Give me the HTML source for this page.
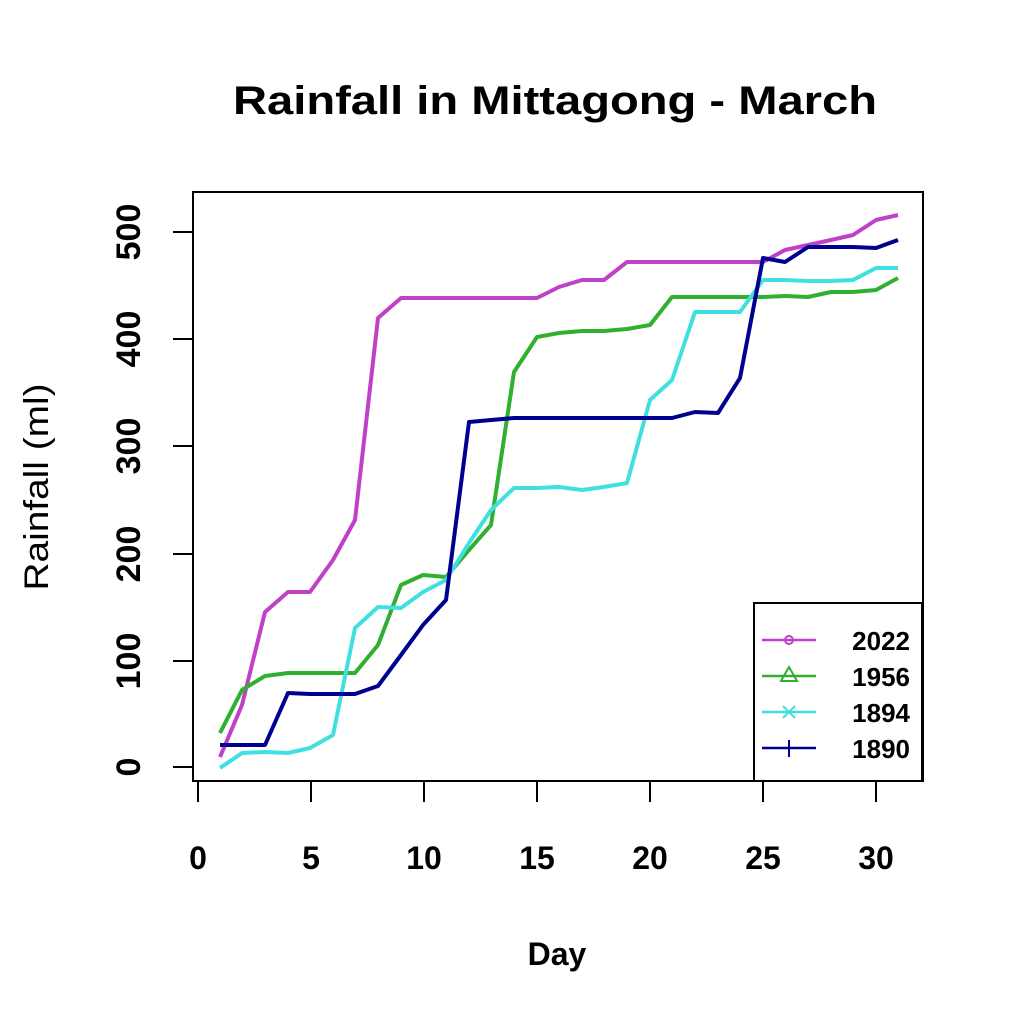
<!DOCTYPE html>
<html><head><meta charset="utf-8"><style>body{margin:0;background:#fff}</style></head><body>
<svg width="1023" height="1021" xmlns="http://www.w3.org/2000/svg" font-family="Liberation Sans, sans-serif">
<rect width="1023" height="1021" fill="#fff"/>
<text x="555" y="114" text-anchor="middle" font-size="40" font-weight="bold" textLength="644" lengthAdjust="spacingAndGlyphs">Rainfall in Mittagong - March</text>
<rect x="193" y="192" width="730" height="589" fill="none" stroke="#000" stroke-width="2"/>
<g stroke="#000" stroke-width="2">
<line x1="173" y1="767" x2="193" y2="767"/><line x1="173" y1="661" x2="193" y2="661"/><line x1="173" y1="554" x2="193" y2="554"/><line x1="173" y1="446" x2="193" y2="446"/><line x1="173" y1="339" x2="193" y2="339"/><line x1="173" y1="232" x2="193" y2="232"/>
<line x1="198" y1="781" x2="198" y2="802"/><line x1="311" y1="781" x2="311" y2="802"/><line x1="424" y1="781" x2="424" y2="802"/><line x1="537" y1="781" x2="537" y2="802"/><line x1="650" y1="781" x2="650" y2="802"/><line x1="763" y1="781" x2="763" y2="802"/><line x1="876" y1="781" x2="876" y2="802"/>
</g>
<g font-size="34" font-weight="bold" text-anchor="middle">
<text transform="translate(140,767) rotate(-90)">0</text>
<text transform="translate(140,661) rotate(-90)">100</text>
<text transform="translate(140,554) rotate(-90)">200</text>
<text transform="translate(140,446) rotate(-90)">300</text>
<text transform="translate(140,339) rotate(-90)">400</text>
<text transform="translate(140,232) rotate(-90)">500</text>
</g>
<g font-size="32" font-weight="bold" text-anchor="middle">
<text x="198" y="869">0</text><text x="311" y="869">5</text><text x="424" y="869">10</text><text x="537" y="869">15</text><text x="650" y="869">20</text><text x="763" y="869">25</text><text x="876" y="869">30</text>
<text x="557" y="965">Day</text>
</g>
<text transform="translate(48,487) rotate(-90)" font-size="34" text-anchor="middle" textLength="207" lengthAdjust="spacingAndGlyphs">Rainfall (ml)</text>
<g fill="none" stroke-width="4" stroke-linejoin="round">
<polyline stroke="#c040c8" points="220,757 242,705 265,612 288,592 310,592 333,560 355,520 378,318 401,298 423,298 446,298 469,298 491,298 514,298 537,298 559,287 582,280 604,280 627,262 650,262 672,262 695,262 718,262 740,262 763,262 785,250 808,245 831,240 853,235 876,220 898,215"/>
<polyline stroke="#30b030" points="220,733 242,690 265,676 288,673 310,673 333,673 355,673 378,645 401,585 423,575 446,577 469,550 491,525 514,372 537,337 559,333 582,331 604,331 627,329 650,325 672,297 695,297 718,297 740,297 763,297 785,296 808,297 831,292 853,292 876,290 898,278"/>
<polyline stroke="#40e0e0" points="220,768 242,753 265,752 288,753 310,748 333,735 355,628 378,607 401,608 423,592 446,580 469,543 491,510 514,488 537,488 559,487 582,490 604,487 627,483 650,400 672,380 695,312 718,312 740,312 763,280 785,280 808,281 831,281 853,280 876,268 898,268"/>
<polyline stroke="#000090" points="220,745 242,745 265,745 288,693 310,694 333,694 355,694 378,686 401,655 423,625 446,600 469,422 491,420 514,418 537,418 559,418 582,418 604,418 627,418 650,418 672,418 695,412 718,413 740,378 763,258 785,262 808,247 831,247 853,247 876,248 898,240"/>
</g>
<rect x="754" y="603" width="168" height="178" fill="#fff" stroke="#000" stroke-width="2"/>
<g stroke-width="2.5">
<line x1="762" y1="640" x2="816" y2="640" stroke="#c040c8"/><circle cx="789" cy="640" r="4" fill="none" stroke="#c040c8" stroke-width="2"/>
<line x1="762" y1="676" x2="816" y2="676" stroke="#30b030"/><polygon points="789,667 781,681 797,681" fill="none" stroke="#30b030" stroke-width="2"/>
<line x1="762" y1="712" x2="816" y2="712" stroke="#40e0e0"/><path d="M783,706 L795,718 M795,706 L783,718" stroke="#40e0e0" stroke-width="2"/>
<line x1="762" y1="748" x2="816" y2="748" stroke="#000090"/><line x1="789" y1="740" x2="789" y2="757" stroke="#000090" stroke-width="2"/>
</g>
<g font-size="26" font-weight="bold" text-anchor="end">
<text x="910" y="650">2022</text><text x="910" y="686">1956</text><text x="910" y="722">1894</text><text x="910" y="758">1890</text>
</g>
</svg>
</body></html>
